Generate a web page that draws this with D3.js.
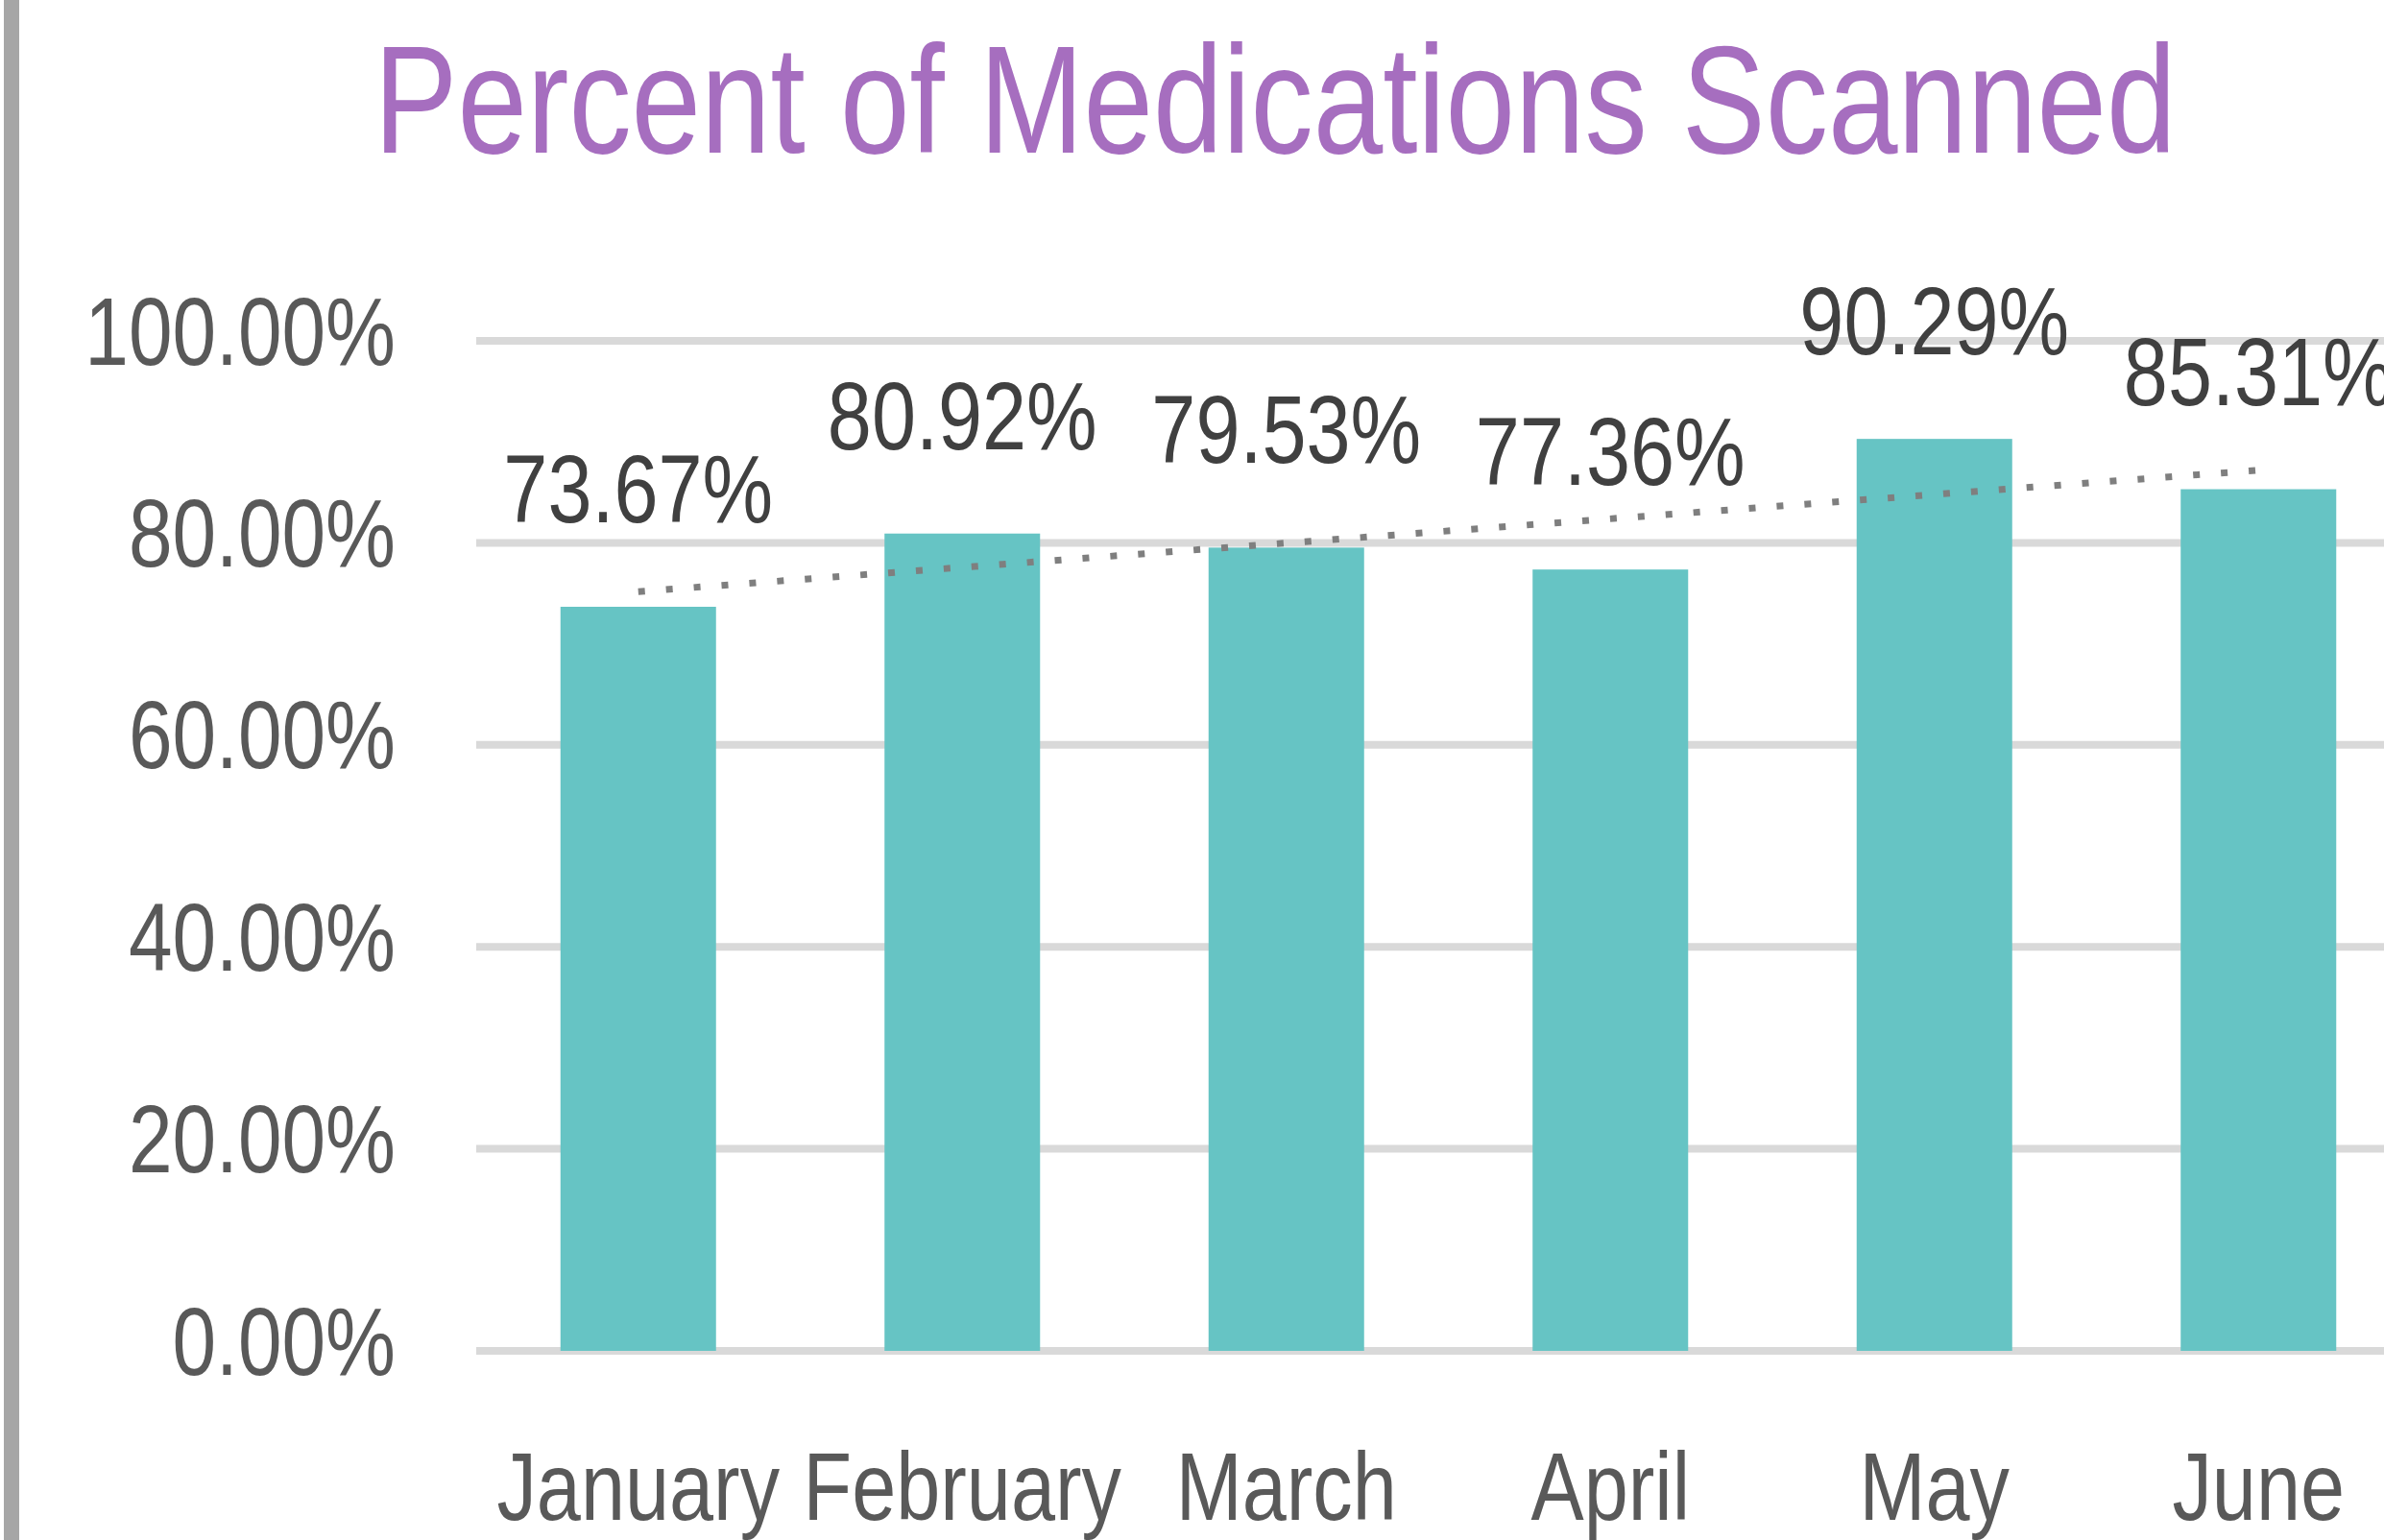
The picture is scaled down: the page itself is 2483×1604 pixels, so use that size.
<!DOCTYPE html>
<html>
<head>
<meta charset="utf-8">
<script src="https://cdnjs.cloudflare.com/ajax/libs/d3/7.8.5/d3.min.js"></script>
<style>
    html, body { margin: 0; padding: 0; background: #fff; overflow: hidden; }
    text { font-family: "Liberation Sans", Arial, sans-serif; }
</style>
</head>
<body>
<script>
var chartTitle = "Percent of Medications Scanned";
var months = ["January", "February", "March", "April", "May", "June"];
var scanned = [73.67, 80.92, 79.53, 77.36, 90.29, 85.31];
var yTicks = [0, 20, 40, 60, 80, 100];

var w = 2483;
var h = 1604;
var plotLeft = 496;
var plotRight = 2521;   // plot runs past the right edge, as in the picture
var plotTop = 355;
var plotBottom = 1407;
var narrow = 0.82;      // Arial Narrow is Arial squeezed to 82%

var svg = d3.select("body")
    .append("svg")
    .attr("width", w)
    .attr("height", h);

svg.append("rect")
    .attr("width", w)
    .attr("height", h)
    .attr("fill", "#ffffff");

// grey bar down the left edge
svg.append("rect")
    .attr("x", 4)
    .attr("y", 0)
    .attr("width", 16)
    .attr("height", h)
    .attr("fill", "#a6a6a6");

var xScale = d3.scaleBand()
    .domain(months)
    .range([plotLeft, plotRight])
    .paddingInner(0.52)
    .paddingOuter(0.26);

var yScale = d3.scaleLinear()
    .domain([0, 100])
    .range([plotBottom, plotTop]);

function place(x, y) {
    return "translate(" + x + "," + y + ") scale(" + narrow + ",1)";
}

// title
svg.append("text")
    .text(chartTitle)
    .attr("transform", place(1328, 159))
    .attr("text-anchor", "middle")
    .attr("font-size", "159px")
    .attr("fill", "#a66ebf");

// gridlines
svg.selectAll("line.grid")
    .data(yTicks)
    .enter()
    .append("line")
    .attr("class", "grid")
    .attr("x1", plotLeft)
    .attr("x2", plotRight)
    .attr("y1", function (d) { return yScale(d); })
    .attr("y2", function (d) { return yScale(d); })
    .attr("stroke", "#d9d9d9")
    .attr("stroke-width", 8);

// y axis labels
var yAxis = d3.axisLeft(yScale)
    .tickValues(yTicks)
    .tickSize(0)
    .tickFormat(function (d) { return d3.format(".2f")(d) + "%"; });

var yG = svg.append("g")
    .attr("transform", "translate(" + plotLeft + ",0)")
    .call(yAxis);
yG.select(".domain").remove();
yG.attr("font-family", null).attr("font-size", null);
yG.selectAll("text")
    .attr("x", 0)
    .attr("dy", null)
    .attr("transform", place(-84, 24))
    .attr("text-anchor", "end")
    .attr("font-size", "100px")
    .attr("fill", "#595959");

// bars
svg.selectAll("rect.bar")
    .data(scanned)
    .enter()
    .append("rect")
    .attr("class", "bar")
    .attr("x", function (d, i) { return xScale(months[i]); })
    .attr("y", function (d) { return yScale(d); })
    .attr("width", xScale.bandwidth())
    .attr("height", function (d) { return yScale(0) - yScale(d); })
    .attr("fill", "#66c4c4");

// linear trendline (least squares over month index)
var n = scanned.length;
var mx = d3.mean(scanned, function (d, i) { return i; });
var my = d3.mean(scanned);
var sxy = d3.sum(scanned, function (d, i) { return (i - mx) * (d - my); });
var sxx = d3.sum(scanned, function (d, i) { return (i - mx) * (i - mx); });
var slope = sxy / sxx;
var intercept = my - slope * mx;
var trend = [0, n - 1].map(function (i) { return [i, intercept + slope * i]; });

svg.append("path")
    .datum(trend)
    .attr("d", d3.line()
        .x(function (d) { return xScale(months[d[0]]) + xScale.bandwidth() / 2; })
        .y(function (d) { return yScale(d[1]); }))
    .attr("fill", "none")
    .attr("stroke", "#7f7f7f")
    .attr("stroke-width", 7)
    .attr("stroke-dasharray", "7,22");

// data labels
svg.selectAll("text.val")
    .data(scanned)
    .enter()
    .append("text")
    .attr("class", "val")
    .text(function (d) { return d3.format(".2f")(d) + "%"; })
    .attr("transform", function (d, i) {
        return place(xScale(months[i]) + xScale.bandwidth() / 2, yScale(d) - 88);
    })
    .attr("text-anchor", "middle")
    .attr("font-size", "101px")
    .attr("fill", "#404040");

// month labels
svg.selectAll("text.month")
    .data(months)
    .enter()
    .append("text")
    .attr("class", "month")
    .text(function (d) { return d; })
    .attr("transform", function (d) {
        return place(xScale(d) + xScale.bandwidth() / 2, 1583);
    })
    .attr("text-anchor", "middle")
    .attr("font-size", "101px")
    .attr("fill", "#595959");
</script>
</body>
</html>
